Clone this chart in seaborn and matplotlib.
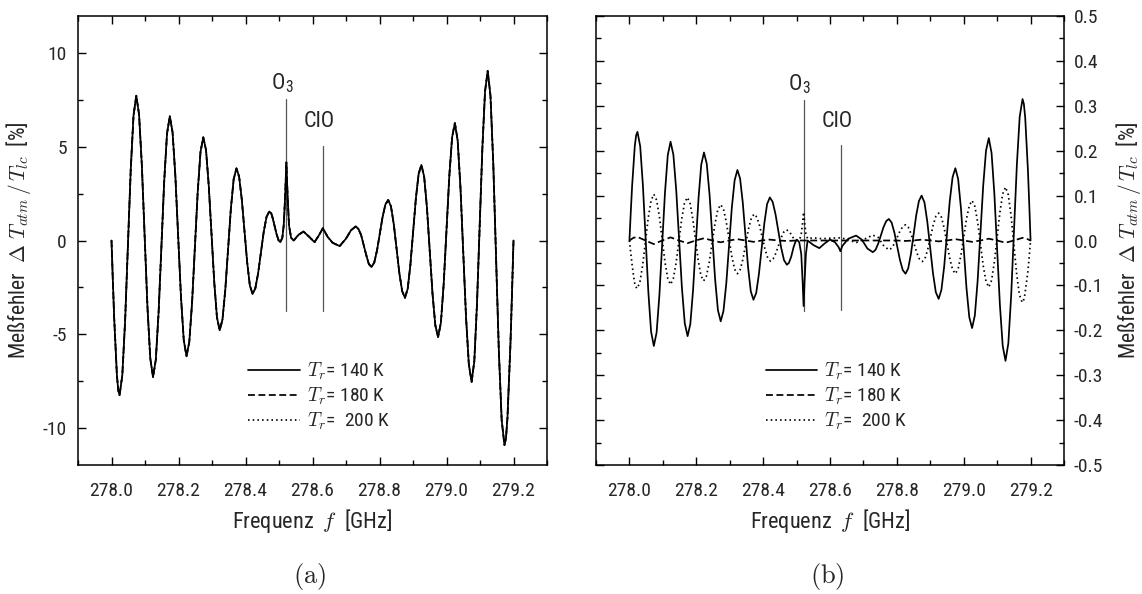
import matplotlib
matplotlib.use("Agg")
import matplotlib.pyplot as plt
from matplotlib import font_manager
import seaborn as sns
from matplotlib.ticker import MultipleLocator, FormatStrFormatter
from matplotlib.lines import Line2D

# ---------------- data ----------------
# (a) relative error; the three receiver temperatures coincide here
left_f = [278.000, 278.004, 278.008, 278.016, 278.020,
          278.024, 278.0323, 278.0407, 278.0573, 278.0657,
          278.074, 278.0823, 278.0907, 278.1073, 278.1157,
          278.124, 278.1323, 278.1407, 278.1573, 278.1657,
          278.174, 278.1823, 278.1907, 278.2073, 278.2157,
          278.224, 278.2323, 278.2407, 278.2573, 278.2657,
          278.274, 278.2822, 278.2903, 278.3067, 278.3148,
          278.323, 278.3313, 278.3397, 278.3563, 278.3647,
          278.373, 278.381, 278.389, 278.405, 278.413,
          278.421, 278.4293, 278.4377, 278.4543, 278.4627,
          278.471, 278.477, 278.482, 278.493, 278.499, 278.504, 278.510, 278.514, 278.518,
          278.522, 278.526, 278.530, 278.536, 278.544, 278.558, 278.573, 278.590, 278.606,
          278.620, 278.631, 278.645, 278.660, 278.681, 278.700, 278.715, 278.729, 278.737,
          278.745, 278.760, 278.768,
          278.776, 278.7843, 278.7927, 278.8093, 278.8177,
          278.826, 278.8343, 278.8427, 278.8593, 278.8677,
          278.876, 278.8842, 278.8923, 278.9087, 278.9168,
          278.925, 278.9333, 278.9417, 278.9583, 278.9667,
          278.975, 278.9833, 278.9917, 279.0083, 279.0167,
          279.025, 279.0333, 279.0417, 279.0583, 279.0667,
          279.075, 279.083, 279.091, 279.107, 279.115,
          279.123, 279.1313, 279.1397, 279.1563, 279.1647,
          279.173, 279.1775, 279.182, 279.191, 279.1955, 279.200]
left_err = [0.0, -2.14, -4.14, -7.16, -7.99,
            -8.27, -7.20, -4.27, 3.74, 6.67,
            7.74, 6.73, 3.98, -3.54, -6.29,
            -7.30, -6.37, -3.81, 3.16, 5.71,
            6.64, 5.78, 3.43, -2.98, -5.33,
            -6.19, -5.41, -3.26, 2.59, 4.74,
            5.52, 4.83, 2.94, -2.22, -4.11,
            -4.80, -4.22, -2.63, 1.70, 3.28,
            3.86, 3.41, 2.18, -1.17, -2.40,
            -2.85, -2.56, -1.75, 0.45, 1.26,
            1.55, 1.45, 1.14, 0.32, 0.0, -0.09, 0.15, 0.8, 2.2,
            4.18, 2.2, 0.8, 0.15, 0.0, 0.3, 0.48, 0.2, -0.09,
            0.3, 0.66, 0.2, -0.12, -0.30, 0.1, 0.55, 0.75, 0.62,
            0.3, -0.75, -1.25,
            -1.42, -1.18, -0.52, 1.27, 1.93,
            2.17, 1.82, 0.86, -1.75, -2.71,
            -3.06, -2.58, -1.28, 2.27, 3.56,
            4.04, 3.42, 1.74, -2.86, -4.54,
            -5.16, -4.39, -2.30, 3.42, 5.51,
            6.28, 5.35, 2.82, -4.10, -6.63,
            -7.56, -6.45, -3.40, 4.91, 7.96,
            9.07, 7.73, 4.07, -5.94, -9.60,
            -10.94, -10.57, -9.47, -5.47, -2.83, 0.0]

# (b) absolute error, T_r = 140 K
b140_f = [278.000, 278.004, 278.008, 278.016, 278.020,
          278.024, 278.0322, 278.0403, 278.0567, 278.0648,
          278.073, 278.0813, 278.0897, 278.1063, 278.1147,
          278.123, 278.1315, 278.140, 278.157, 278.1655,
          278.174, 278.1822, 278.1903, 278.2067, 278.2148,
          278.223, 278.2313, 278.2397, 278.2563, 278.2647,
          278.273, 278.2813, 278.2897, 278.3063, 278.3147,
          278.323, 278.331, 278.339, 278.355, 278.363,
          278.371, 278.3792, 278.3873, 278.4037, 278.4118,
          278.420, 278.4285, 278.437, 278.454, 278.4625,
          278.471, 278.477, 278.484, 278.491, 278.497, 278.501, 278.508, 278.514, 278.518,
          278.521, 278.524, 278.528, 278.533, 278.550, 278.568, 278.585, 278.600, 278.615,
          278.626, 278.631, 278.637, 278.655, 278.678, 278.695, 278.712,
          278.728, 278.736, 278.744, 278.760, 278.768,
          278.776, 278.7843, 278.7927, 278.8093, 278.8177,
          278.826, 278.834, 278.842, 278.858, 278.866,
          278.874, 278.8825, 278.891, 278.908, 278.9165,
          278.925, 278.9333, 278.9417, 278.9583, 278.9667,
          278.975, 278.9833, 278.9917, 279.0083, 279.0167,
          279.025, 279.0333, 279.0417, 279.0583, 279.0667,
          279.075, 279.0833, 279.0917, 279.1083, 279.1167,
          279.125, 279.1335, 279.142, 279.159, 279.1675,
          279.176, 279.180, 279.184, 279.192, 279.196, 279.200]
b140 = [0.0, 0.063, 0.121, 0.210, 0.234,
        0.242, 0.210, 0.123, -0.116, -0.203,
        -0.235, -0.205, -0.121, 0.106, 0.190,
        0.220, 0.191, 0.112, -0.105, -0.184,
        -0.213, -0.186, -0.111, 0.094, 0.169,
        0.196, 0.171, 0.102, -0.086, -0.155,
        -0.180, -0.157, -0.096, 0.073, 0.134,
        0.157, 0.138, 0.085, -0.060, -0.113,
        -0.132, -0.117, -0.075, 0.039, 0.081,
        0.096, 0.086, 0.0585, -0.0165, -0.044,
        -0.054, -0.050, -0.036, -0.015, -0.002, 0.002, -0.004, -0.03, -0.09,
        -0.146, -0.09, -0.03, 0.0, -0.010, -0.017, -0.006, 0.002, -0.004,
        -0.015, -0.024, -0.012, 0.004, 0.011, 0.002, -0.018,
        -0.026, -0.021, -0.0075, 0.0295, 0.043,
        0.048, 0.040, 0.0175, -0.0435, -0.066,
        -0.074, -0.062, -0.0305, 0.0565, 0.088,
        0.100, 0.085, 0.0425, -0.0725, -0.115,
        -0.130, -0.110, -0.057, 0.088, 0.141,
        0.161, 0.137, 0.072, -0.106, -0.171,
        -0.195, -0.167, -0.089, 0.122, 0.200,
        0.228, 0.195, 0.104, -0.144, -0.235,
        -0.268, -0.229, -0.122, 0.169, 0.276,
        0.315, 0.304, 0.273, 0.158, 0.082, 0.0]

# (b) T_r = 180 K
b180_f = [278.000, 278.012, 278.024, 278.048, 278.073, 278.098, 278.123, 278.148, 278.174,
          278.198, 278.223, 278.248, 278.273, 278.298, 278.323, 278.347, 278.371, 278.396,
          278.420, 278.445, 278.471, 278.50, 278.55, 278.60, 278.65, 278.70, 278.75, 278.80,
          278.826, 278.850, 278.874, 278.900, 278.925, 278.950, 278.975, 279.000, 279.025,
          279.050, 279.075, 279.100, 279.125, 279.150, 279.176, 279.188, 279.200]
b180 = [0.0, 0.006, 0.008, 0.0, -0.008, 0.0, 0.007, 0.0, -0.006,
        0.0, 0.005, 0.0, -0.004, 0.0, 0.003, 0.0, -0.003, 0.0,
        0.002, 0.0, -0.001, 0.0, 0.0, 0.0, 0.0, 0.0, 0.0, 0.0,
        -0.001, 0.0, 0.002, 0.0, -0.002, 0.0, 0.003, 0.0, -0.003,
        0.0, 0.004, 0.0, -0.005, 0.0, 0.006, 0.004, 0.0]

# (b) T_r = 200 K
b200_f = [278.000, 278.004, 278.008, 278.015, 278.019,
          278.023, 278.0313, 278.0397, 278.0563, 278.0647,
          278.073, 278.0813, 278.0897, 278.1063, 278.1147,
          278.123, 278.1313, 278.1397, 278.1563, 278.1647,
          278.173, 278.1812, 278.1893, 278.2057, 278.2138,
          278.222, 278.2305, 278.239, 278.256, 278.2645,
          278.273, 278.2813, 278.2897, 278.3063, 278.3147,
          278.323, 278.3313, 278.3397, 278.3563, 278.3647,
          278.373, 278.3812, 278.3893, 278.4057, 278.4138,
          278.422, 278.430, 278.438, 278.454, 278.462,
          278.470, 278.480, 278.490, 278.500, 278.510, 278.514, 278.518, 278.521, 278.524,
          278.528, 278.533, 278.550, 278.575, 278.600, 278.631, 278.655, 278.678, 278.703,
          278.728, 278.744, 278.760,
          278.776, 278.7843, 278.7927, 278.8093, 278.8177,
          278.826, 278.8343, 278.8427, 278.8593, 278.8677,
          278.876, 278.8842, 278.8923, 278.9087, 278.9168,
          278.925, 278.9333, 278.9417, 278.9583, 278.9667,
          278.975, 278.9833, 278.9917, 279.0083, 279.0167,
          279.025, 279.0333, 279.0417, 279.0583, 279.0667,
          279.075, 279.0833, 279.0917, 279.1083, 279.1167,
          279.125, 279.1333, 279.1417, 279.1583, 279.1667,
          279.175, 279.179, 279.183, 279.192, 279.196, 279.200]
b200 = [0.0, -0.028, -0.054, -0.093, -0.103,
        -0.107, -0.093, -0.0545, 0.0505, 0.089,
        0.103, 0.090, 0.053, -0.048, -0.085,
        -0.098, -0.085, -0.0495, 0.0475, 0.083,
        0.096, 0.084, 0.0495, -0.0435, -0.078,
        -0.090, -0.079, -0.0475, 0.0375, 0.069,
        0.080, 0.070, 0.0415, -0.0355, -0.064,
        -0.074, -0.065, -0.041, 0.026, 0.050,
        0.059, 0.052, 0.033, -0.020, -0.039,
        -0.046, -0.041, -0.0285, 0.0065, 0.019,
        0.024, 0.018, 0.006, 0.0, 0.004, 0.015, 0.04, 0.063, 0.04,
        0.015, 0.004, 0.006, 0.004, 0.005, 0.006, 0.002, -0.005, 0.003,
        0.012, 0.007, -0.011,
        -0.021, -0.017, -0.007, 0.021, 0.031,
        0.035, 0.0295, 0.0145, -0.0265, -0.0415,
        -0.047, -0.040, -0.020, 0.034, 0.054,
        0.061, 0.052, 0.027, -0.040, -0.065,
        -0.074, -0.063, -0.033, 0.048, 0.078,
        0.089, 0.076, 0.041, -0.056, -0.091,
        -0.104, -0.089, -0.048, 0.063, 0.104,
        0.119, 0.102, 0.055, -0.074, -0.121,
        -0.138, -0.133, -0.120, -0.069, -0.036, 0.0]

legend_labels = [r"$T_r$= 140 K", r"$T_r$= 180 K", r"$T_r$=  200 K"]

# spectral line markers: position, (a) bottom/top, (b) bottom/top
species = [r"O$_\mathregular{3}$", "ClO"]
line_f = [278.522, 278.632]
line_a = [(-3.75, 7.55), (-3.75, 5.07)]
line_b = [(-0.156, 0.313), (-0.154, 0.213)]
label_f = [278.509, 278.621]
label_a = [8.1, 6.05]
label_b = [0.335, 0.252]

# ---------------- fonts: look for a narrow sans ----------------
sns.set_style("white")
family = None
stretch = "normal"
narrow_names = ["Liberation Sans Narrow", "Roboto Condensed", "Arial Narrow",
                "Nimbus Sans Narrow", "Open Sans Condensed", "Noto Sans Condensed"]
names = {f.name for f in font_manager.fontManager.ttflist}
for n in narrow_names:
    if n in names:
        family = n
        break
if family is None:
    for base in ["Roboto", "Noto Sans", "Open Sans", "DejaVu Sans"]:
        ok = [f for f in font_manager.fontManager.ttflist
              if f.name == base and str(f.stretch) in ("condensed", "semi-condensed", "extra-condensed")]
        if ok:
            family, stretch = base, "condensed"
            break
if family is None:
    family = "Liberation Sans"
    FS = 12.5
else:
    FS = 14

plt.rcParams["font.family"] = [family, "DejaVu Sans"]
plt.rcParams["font.stretch"] = stretch
plt.rcParams["mathtext.fontset"] = "cm"
plt.rcParams["axes.unicode_minus"] = False

fig = plt.figure(figsize=(11.42, 5.94), dpi=100)
ax_a = fig.add_axes([78 / 1142, 129 / 594, 469 / 1142, 449 / 594])
ax_b = fig.add_axes([596 / 1142, 129 / 594, 468 / 1142, 449 / 594])

LW = 1.25
styles = [dict(linestyle="-"), dict(linestyle=(0, (4, 2))), dict(linestyle=(0, (0.9, 1.8)))]


def plot_series(ax, xs, ys, st):
    sns.lineplot(x=xs, y=ys, ax=ax, color="black", lw=LW, sort=False,
                 estimator=None, legend=False, **st)


# (a): dotted, dashed, then solid on top (they coincide)
for st in styles[::-1]:
    plot_series(ax_a, left_f, left_err, st)
plot_series(ax_b, b200_f, b200, styles[2])
plot_series(ax_b, b180_f, b180, styles[1])
plot_series(ax_b, b140_f, b140, styles[0])

for ax, seg, lab_y in [(ax_a, line_a, label_a), (ax_b, line_b, label_b)]:
    for name, f0, (y0, y1), lf, ly in zip(species, line_f, seg, label_f, lab_y):
        ax.plot([f0, f0], [y0, y1], color="#555555", lw=0.9, zorder=1)
        ax.text(lf, ly, name, ha="center", va="baseline", fontsize=FS + 2)

for ax in (ax_a, ax_b):
    ax.set_xlim(277.9, 279.3)
    ax.xaxis.set_major_locator(MultipleLocator(0.2))
    ax.xaxis.set_minor_locator(MultipleLocator(0.1))
    ax.xaxis.set_major_formatter(FormatStrFormatter("%.1f"))
    ax.tick_params(which="both", direction="in", top=True, bottom=True, left=True, right=True,
                   labelsize=FS, width=1.0, color="black")
    ax.tick_params(axis="x", which="major", pad=12)
    ax.tick_params(which="major", length=5.5)
    ax.tick_params(which="minor", length=3.5)
    for sp in ax.spines.values():
        sp.set_linewidth(1.1)
        sp.set_color("black")
    ax.set_xlabel(r"Frequenz  $f$  [GHz]", fontsize=FS + 2)
    ax.xaxis.set_label_coords(0.5, -0.093)
    handles = [Line2D([], [], color="black", lw=LW, **st) for st in styles]
    ax.legend(handles, legend_labels, loc="upper left", bbox_to_anchor=(0.363, 0.232),
              frameon=False, fontsize=FS, handlelength=2.65, handletextpad=0.35,
              labelspacing=0.18, borderpad=0.0, borderaxespad=0.0)

ylab = r"Meßfehler  $\Delta\ T_{atm}\,/\,T_{lc}$  [%]"

ax_a.set_ylim(-12, 12)
ax_a.yaxis.set_major_locator(MultipleLocator(5))
ax_a.yaxis.set_minor_locator(MultipleLocator(2.5))
ax_a.yaxis.set_major_formatter(FormatStrFormatter("%d"))
ax_a.tick_params(axis="y", which="major", pad=8)
ax_a.set_ylabel(ylab, fontsize=FS + 1.5)
ax_a.yaxis.set_label_coords(-0.096, 0.5)

ax_b.set_ylim(-0.5, 0.5)
ax_b.yaxis.set_major_locator(MultipleLocator(0.1))
ax_b.yaxis.set_minor_locator(MultipleLocator(0.05))
ax_b.yaxis.set_major_formatter(FormatStrFormatter("%.1f"))
ax_b.tick_params(axis="y", labelleft=False, labelright=True, pad=7)
ax_b.yaxis.set_label_position("right")
ax_b.set_ylabel(ylab, fontsize=FS + 1.5)
ax_b.yaxis.set_label_coords(1.107, 0.5)

fig.text(310 / 1142, 1 - 577 / 594, r"$(\mathrm{a})$", ha="center", va="center", fontsize=19)
fig.text(827 / 1142, 1 - 577 / 594, r"$(\mathrm{b})$", ha="center", va="center", fontsize=19)

fig.savefig("out.png", dpi=100)
